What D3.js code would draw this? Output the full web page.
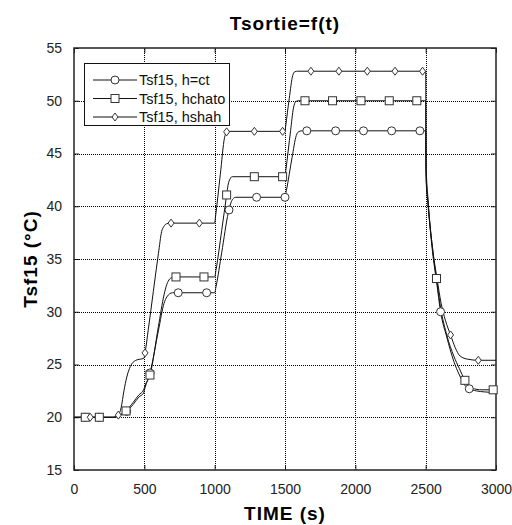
<!DOCTYPE html>
<html>
<head>
  <title>Tsortie=f(t)</title>
  <script src="https://d3js.org/d3.v7.min.js"></script>
  <style>
    body { margin: 0; background: #fff; }
    text { font-family: "Liberation Sans", Arial, sans-serif; }
  </style>
</head>
<body>

<div id="chart"></div>

<script>
// Series: Tsf15, h=ct (circles)
const ctTime = [0, 280, 330, 370, 420, 460, 495, 505, 540, 600, 640, 660, 680, 700, 1000, 1010, 1050, 1097, 1115, 1130, 1150,
  1500, 1510, 1550, 1580, 1595, 1620, 2500, 2503, 2517, 2553, 2578, 2606, 2650, 2700, 2740, 2780, 2810, 2860, 2920, 3000];
const ctTemp = [20, 20, 20.2, 20.5, 21.2, 21.9, 22.3, 22.8, 24.2, 28.2, 30.8, 31.4, 31.7, 31.8, 31.8, 32.4, 35.6, 39.4, 40.3, 40.7, 40.85,
  40.85, 41.5, 44.6, 46.7, 47.05, 47.15, 47.15, 42.5, 40.1, 35.2, 32.8, 30.0, 27.6, 25.3, 24.0, 23.0, 22.7, 22.5, 22.4, 22.35];
const ctMarkT = [78, 178, 374, 540, 741, 943, 1102, 1298, 1500, 1655, 1860, 2058, 2258, 2459, 2606, 2810];

// Series: Tsf15, hchato (squares)
const chTime = [0, 280, 330, 370, 420, 460, 495, 505, 540, 600, 640, 660, 680, 700, 720, 1000, 1010, 1050, 1085, 1095, 1110, 1125,
  1500, 1505, 1540, 1560, 1575, 1595, 2500, 2503, 2517, 2553, 2577, 2606, 2650, 2700, 2740, 2779, 2800, 2830, 2900, 3000];
const chTemp = [20, 20, 20.25, 20.6, 21.4, 22.1, 22.6, 23.0, 24.0, 28.6, 31.6, 32.6, 33.1, 33.25, 33.3, 33.3, 34.0, 37.7, 41.07, 42.0, 42.6, 42.8,
  42.8, 43.3, 47.2, 49.3, 49.9, 50.0, 50.0, 43.0, 40.4, 35.5, 33.15, 30.4, 27.8, 25.8, 24.6, 23.5, 23.0, 22.75, 22.6, 22.6];
const chMarkT = [80, 180, 370, 540, 725, 924, 1085, 1282, 1483, 1642, 1838, 2040, 2241, 2437, 2577, 2779, 2980];

// Series: Tsf15, hshah (diamonds)
const shTime = [0, 290, 315, 335, 355, 375, 400, 440, 497, 505, 528, 600, 623, 640, 660, 690, 1000, 1005, 1040, 1070, 1085, 1100,
  1500, 1505, 1530, 1555, 1570, 1590, 2500, 2503, 2517, 2553, 2580, 2610, 2640, 2677, 2710, 2745, 2800, 2874, 3000];
const shTemp = [20, 20, 20.2, 20.9, 22.5, 23.8, 24.8, 25.4, 25.6, 26.1, 28.3, 35.5, 37.6, 38.1, 38.35, 38.4, 38.4, 38.9, 43.0, 46.5, 47.05, 47.1,
  47.1, 47.6, 50.2, 52.4, 52.75, 52.8, 52.8, 44.0, 40.6, 35.6, 33.2, 30.8, 29.2, 27.8, 26.6, 25.8, 25.5, 25.4, 25.4];
const shMarkT = [115, 315, 505, 690, 891, 1085, 1282, 1483, 1684, 1883, 2085, 2282, 2478, 2677, 2874];

const xTicks = [0, 500, 1000, 1500, 2000, 2500, 3000];
const yTicks = [15, 20, 25, 30, 35, 40, 45, 50, 55];
const seriesNames = ["Tsf15, h=ct", "Tsf15, hchato", "Tsf15, hshah"];

const width = 512, height = 525;
const margin = { top: 48, right: 16, bottom: 55, left: 74 };

const svg = d3.select("#chart").append("svg")
  .attr("width", width)
  .attr("height", height);

const x = d3.scaleLinear().domain([0, 3000]).range([margin.left, width - margin.right]);
const y = d3.scaleLinear().domain([15, 55]).range([height - margin.bottom, margin.top]);
const px = v => Math.round(v) + 0.5;

// axes with inner ticks on all four sides
const axisStyle = g => {
  g.select(".domain").remove();
  g.selectAll(".tick line").attr("stroke", "#222");
  g.selectAll(".tick text").attr("fill", "#222").style("font-size", "14px")
    .style("font-family", "'Liberation Sans', Arial, sans-serif");
};
svg.append("g")
  .attr("transform", `translate(0,${y(15)})`)
  .call(d3.axisBottom(x).tickValues(xTicks).tickSize(-5).tickPadding(14).tickFormat(d3.format("d")))
  .call(axisStyle);
svg.append("g")
  .attr("transform", `translate(0,${y(55)})`)
  .call(d3.axisTop(x).tickValues(xTicks).tickSize(-5).tickFormat(""))
  .call(axisStyle);
svg.append("g")
  .attr("transform", `translate(${x(0)},0)`)
  .call(d3.axisLeft(y).tickValues(yTicks).tickSize(-5).tickPadding(12).tickFormat(d3.format("d")))
  .call(axisStyle);
svg.append("g")
  .attr("transform", `translate(${x(3000)},0)`)
  .call(d3.axisRight(y).tickValues(yTicks).tickSize(-5).tickFormat(""))
  .call(axisStyle);

svg.append("rect")
  .attr("x", x(0)).attr("y", y(55))
  .attr("width", x(3000) - x(0)).attr("height", y(15) - y(55))
  .attr("fill", "none").attr("stroke", "#222").attr("stroke-width", 1.5);

// grid (dotted), one path per grid line, drawn after the frame
xTicks.slice(1, -1).forEach(d => {
  svg.append("path")
    .attr("d", `M${px(x(d))},${y(55) + 1}V${y(15) - 1}`)
    .attr("fill", "none")
    .attr("stroke", "#000")
    .attr("stroke-width", 1)
    .attr("stroke-dasharray", "1,1");
});
yTicks.slice(1, -1).forEach(d => {
  svg.append("path")
    .attr("d", `M${x(0) + 1},${px(y(d))}H${x(3000) - 1}`)
    .attr("fill", "none")
    .attr("stroke", "#000")
    .attr("stroke-width", 1)
    .attr("stroke-dasharray", "1,1");
});

// lines
const line = d3.line()
  .x(d => x(d[0]))
  .y(d => y(d[1]))
  .curve(d3.curveMonotoneX);

const series = [
  { name: seriesNames[0], pts: d3.zip(ctTime, ctTemp), marks: ctMarkT, shape: "circle" },
  { name: seriesNames[1], pts: d3.zip(chTime, chTemp), marks: chMarkT, shape: "square" },
  { name: seriesNames[2], pts: d3.zip(shTime, shTemp), marks: shMarkT, shape: "diamond" }
];

svg.append("clipPath").attr("id", "plot")
  .append("rect")
  .attr("x", x(0)).attr("y", y(55))
  .attr("width", x(3000) - x(0)).attr("height", y(15) - y(55));

function drawMarker(sel, shape) {
  if (shape === "circle") {
    sel.append("circle").attr("r", 4);
  } else if (shape === "square") {
    sel.append("rect").attr("x", -4).attr("y", -4).attr("width", 8).attr("height", 8);
  } else {
    sel.append("path").attr("d", "M0,-4L3,0L0,4L-3,0Z");
  }
  sel.selectAll("*").attr("fill", "#fff").attr("stroke", "#333").attr("stroke-width", 1);
}

series.forEach(s => {
  svg.append("path")
    .datum(s.pts)
    .attr("d", line)
    .attr("fill", "none")
    .attr("stroke", "#111")
    .attr("stroke-width", 1)
    .attr("clip-path", "url(#plot)");
});

series.forEach(s => {
  const tt = s.pts.map(p => p[0]);
  const vv = s.pts.map(p => p[1]);
  const interp = t => {
    const i = d3.bisectRight(tt, t);
    if (i <= 0) return vv[0];
    if (i >= tt.length) return vv[vv.length - 1];
    const f = (t - tt[i - 1]) / (tt[i] - tt[i - 1]);
    return vv[i - 1] + f * (vv[i] - vv[i - 1]);
  };
  const g = svg.append("g");
  s.marks.forEach(t => {
    const m = g.append("g").attr("transform", `translate(${x(t)},${y(interp(t))})`);
    drawMarker(m, s.shape);
  });
});

// legend
const legend = svg.append("g");
legend.append("rect")
  .attr("x", 84.5).attr("y", 63.5).attr("width", 145).attr("height", 62)
  .attr("fill", "#fff").attr("stroke", "#111");
series.forEach((s, i) => {
  const ly = 80 + i * 18.5;
  legend.append("line")
    .attr("x1", 93).attr("x2", 137).attr("y1", ly).attr("y2", ly)
    .attr("stroke", "#111");
  const m = legend.append("g").attr("transform", `translate(115,${ly})`);
  drawMarker(m, s.shape);
  legend.append("text")
    .attr("x", 139).attr("y", ly).attr("dy", "0.35em")
    .style("font-size", "14.5px").attr("fill", "#111")
    .text(s.name);
});

// titles
const titleStyle = t => t.style("font-size", "19px").style("font-weight", "bold")
  .style("letter-spacing", "1px").attr("text-anchor", "middle");
svg.append("text")
  .attr("x", (x(0) + x(3000)) / 2).attr("y", 30)
  .call(titleStyle)
  .text("Tsortie=f(t)");
svg.append("text")
  .attr("x", (x(0) + x(3000)) / 2).attr("y", 520)
  .call(titleStyle)
  .text("TIME (s)");
svg.append("text")
  .attr("transform", `translate(37,${(y(15) + y(55)) / 2}) rotate(-90)`)
  .call(titleStyle)
  .text("Tsf15 (°C)");
</script>

</body>
</html>
